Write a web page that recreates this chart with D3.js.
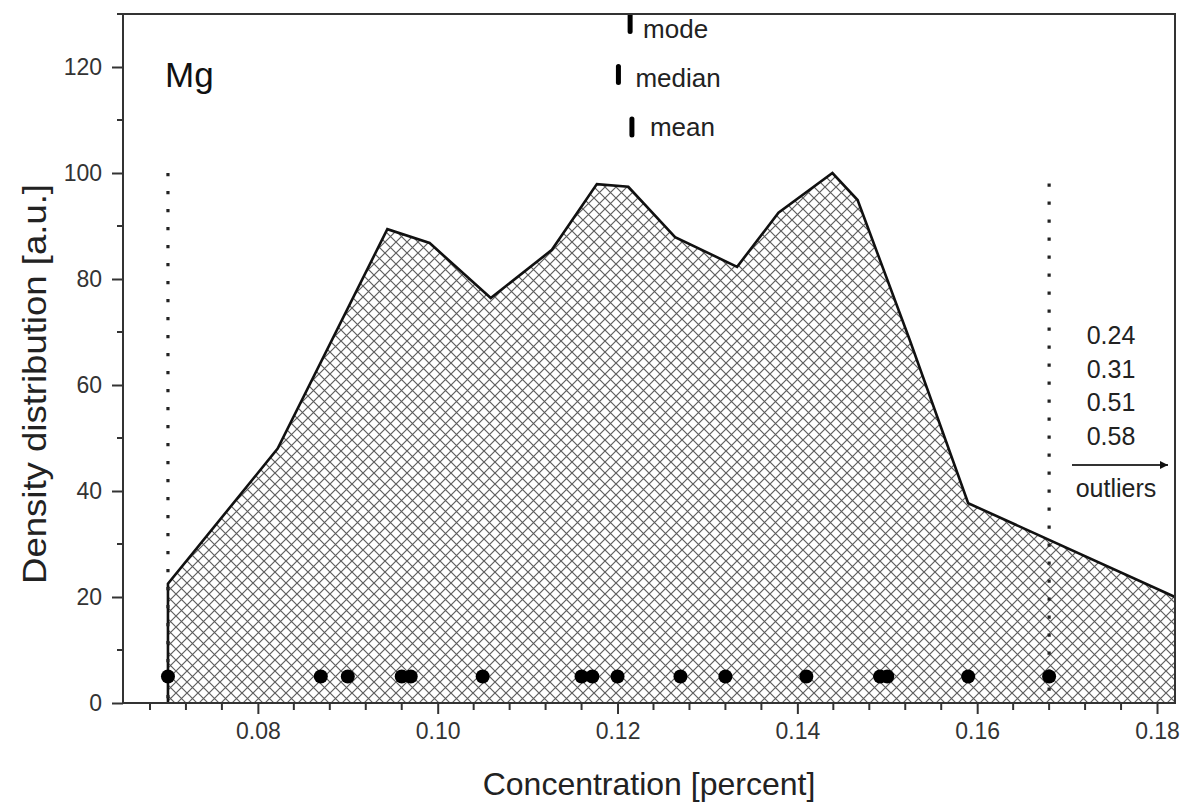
<!DOCTYPE html>
<html>
<head>
<meta charset="utf-8">
<script src="https://cdn.jsdelivr.net/npm/d3@7"></script>
<style>
  html, body { margin: 0; padding: 0; background: #fff; }
  svg text { font-family: "Liberation Sans", Arial, Helvetica, sans-serif; }
</style>
</head>
<body>
<svg id="chart" width="1192" height="805"></svg>
<script>
// Density estimate of Mg concentration (polyline vertices)
const densityX = [0.0700, 0.0822, 0.0944, 0.0991, 0.1059, 0.1127, 0.1177, 0.1212, 0.1264, 0.1333, 0.1379, 0.1439, 0.1467, 0.1525, 0.1590, 0.1820];
const densityY = [22.5, 48, 89.4, 86.8, 76.4, 85.5, 97.9, 97.4, 87.9, 82.3, 92.5, 100, 94.9, 68.5, 37.7, 20];

// Individual measurements (rug of points)
const samples = [0.070, 0.087, 0.090, 0.096, 0.097, 0.105, 0.116, 0.1172, 0.120, 0.127, 0.132, 0.141, 0.1492, 0.150, 0.159, 0.168];
const sampleLevel = 5;

// Summary statistics
const statNames = ["mode", "median", "mean"];
const statValues = [0.1214, 0.1201, 0.1216];
const statLevels = [128.2, 118.6, 108.7];

// Range markers (min / max of the non-outlier data)
const rangeX = [0.070, 0.168];
const rangeTop = [100, 98];

// Outliers beyond the axis
const outliers = ["0.24", "0.31", "0.51", "0.58"];

// Axis ticks
const xTicks = [0.08, 0.10, 0.12, 0.14, 0.16, 0.18];
const yTicks = [0, 20, 40, 60, 80, 100, 120];

const svg = d3.select("#chart");
const L = 123, R = 1175, T = 14, B = 703;

const x = d3.scaleLinear().domain([0.0650, 0.1820]).range([L, R]);
const y = d3.scaleLinear().domain([0, 130]).range([B, T]);

// crosshatch fill
const defs = svg.append("defs");
const P = 11;
const pat = defs.append("pattern")
  .attr("id", "hatch").attr("patternUnits", "userSpaceOnUse")
  .attr("width", P).attr("height", P);
pat.append("rect").attr("width", P).attr("height", P).attr("fill", "#fff");
pat.append("path")
  .attr("d", `M0,0L${P},${P}M${P},0L0,${P}M${-P/2},${P/2}L0,${P}M${P/2},${-P/2}L${P},0`)
  .attr("stroke", "#5e5e5e").attr("stroke-width", 1.2).attr("fill", "none");

defs.append("clipPath").attr("id", "plotclip")
  .append("rect").attr("x", L).attr("y", T).attr("width", R - L).attr("height", B - T);

const pts = densityX.map((d, i) => [d, densityY[i]]);
const areaPts = [[densityX[0], 0], ...pts, [densityX[densityX.length - 1], 0]];

const g = svg.append("g").attr("clip-path", "url(#plotclip)");

g.append("path")
  .datum(areaPts)
  .attr("d", d3.line().x(d => x(d[0])).y(d => y(d[1])))
  .attr("fill", "url(#hatch)").attr("stroke", "none");

// outline: vertical edge from the baseline, then the curve
g.append("path")
  .datum([[densityX[0], 0], ...pts])
  .attr("d", d3.line().x(d => x(d[0])).y(d => y(d[1])))
  .attr("fill", "none").attr("stroke", "#111").attr("stroke-width", 2.6)
  .attr("stroke-linejoin", "miter");

// dotted range markers
g.selectAll("line.range").data(rangeX).join("line")
  .attr("class", "range")
  .attr("x1", d => x(d)).attr("x2", d => x(d))
  .attr("y1", (d, i) => y(rangeTop[i])).attr("y2", y(0))
  .attr("stroke", "#222").attr("stroke-width", 3.2)
  .attr("stroke-dasharray", "3.2 14.8");

// sample points
g.selectAll("circle").data(samples).join("circle")
  .attr("cx", d => x(d)).attr("cy", y(sampleLevel)).attr("r", 7)
  .attr("fill", "#000");

// statistics markers
const stats = svg.append("g");
statNames.forEach((name, i) => {
  const cx = x(statValues[i]);
  const cy = y(statLevels[i]);
  stats.append("line")
    .attr("x1", cx).attr("x2", cx).attr("y1", cy - 8).attr("y2", cy + 8)
    .attr("stroke", "#000").attr("stroke-width", 5).attr("stroke-linecap", "round");
  stats.append("text")
    .attr("x", cx + [13, 17, 18][i]).attr("y", cy + [14, 13, 9][i])
    .attr("font-size", 26).attr("fill", "#222").text(name);
});

// frame
svg.append("rect").attr("x", L).attr("y", T).attr("width", R - L).attr("height", B - T)
  .attr("fill", "none").attr("stroke", "#333").attr("stroke-width", 2);

// x axis
const xAxis = d3.axisBottom(x).tickValues(xTicks).tickFormat(d3.format(".2f"))
  .tickSize(11).tickPadding(9);
const gx = svg.append("g").attr("transform", `translate(0,${B})`).call(xAxis);
const xMinor = d3.range(0.068, 0.1821, 0.004).filter(v => !xTicks.some(t => Math.abs(t - v) < 1e-6));
gx.selectAll("line.minor").data(xMinor).join("line").attr("class", "minor")
  .attr("x1", d => x(d)).attr("x2", d => x(d)).attr("y1", 0).attr("y2", 7)
  .attr("stroke", "#333").attr("stroke-width", 2);

// y axis
const yAxis = d3.axisLeft(y).tickValues(yTicks).tickSize(11).tickPadding(10);
const gy = svg.append("g").attr("transform", `translate(${L},0)`).call(yAxis);
const yMinor = [10, 30, 50, 70, 90, 110, 130];
gy.selectAll("line.minor").data(yMinor).join("line").attr("class", "minor")
  .attr("x1", 0).attr("x2", -6).attr("y1", d => y(d)).attr("y2", d => y(d))
  .attr("stroke", "#333").attr("stroke-width", 2);

[gx, gy].forEach(a => {
  a.select(".domain").remove();
  a.selectAll(".tick line").attr("stroke", "#333").attr("stroke-width", 2);
  a.selectAll(".tick text").attr("font-size", 23).attr("fill", "#333")
    .attr("font-family", "Liberation Sans, Arial, sans-serif");
});

// titles
svg.append("text").attr("x", (L + R) / 2).attr("y", 795)
  .attr("text-anchor", "middle").attr("font-size", 32).attr("fill", "#222")
  .text("Concentration [percent]");
svg.append("text")
  .attr("transform", `translate(46,384) rotate(-90)`)
  .attr("text-anchor", "middle").attr("font-size", 33).attr("fill", "#222")
  .attr("textLength", 400).attr("lengthAdjust", "spacingAndGlyphs")
  .text("Density distribution [a.u.]");

svg.append("text").attr("x", 165).attr("y", 87)
  .attr("font-size", 35).attr("fill", "#111").text("Mg");

// outlier list and arrow
const ox = 1111;
svg.append("g").selectAll("text").data(outliers).join("text")
  .attr("x", ox).attr("y", (d, i) => 344 + i * 33.6)
  .attr("text-anchor", "middle").attr("font-size", 25).attr("fill", "#222")
  .text(d => d);

defs.append("marker").attr("id", "arrowhead")
  .attr("viewBox", "0 0 10 10").attr("refX", 10).attr("refY", 5)
  .attr("markerWidth", 14).attr("markerHeight", 8).attr("orient", "auto")
  .attr("markerUnits", "userSpaceOnUse")
  .append("path").attr("d", "M0,0L10,5L0,10Z").attr("fill", "#111");
svg.append("line").attr("x1", 1072).attr("x2", 1168).attr("y1", 465).attr("y2", 465)
  .attr("stroke", "#333").attr("stroke-width", 2.2).attr("marker-end", "url(#arrowhead)");
svg.append("text").attr("x", 1116).attr("y", 497)
  .attr("text-anchor", "middle").attr("font-size", 25).attr("fill", "#222")
  .text("outliers");
</script>
</body>
</html>
